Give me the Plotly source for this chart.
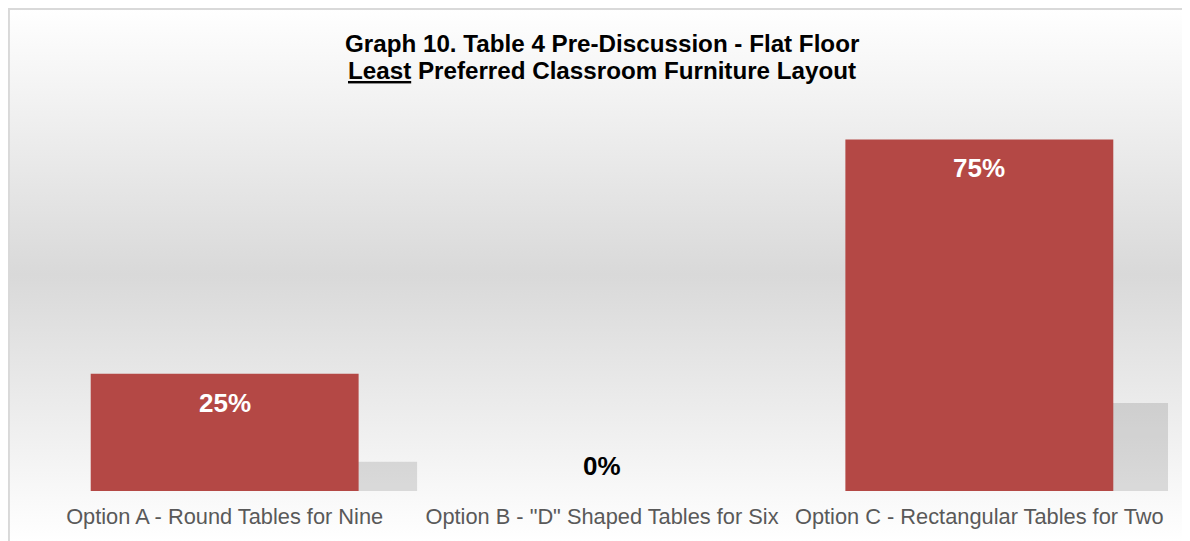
import plotly.graph_objects as go

categories = ["Option A - Round Tables for Nine",
              "Option B - \"D\" Shaped Tables for Six",
              "Option C - Rectangular Tables for Two"]
values = [0.25, 0.0, 0.75]
labels = ["25%", "0%", "75%"]

title_line1 = "Graph 10. Table 4 Pre-Discussion - Flat Floor"
title_line2 = "<u>Least</u> Preferred Classroom Furniture Layout"

FONT = "Liberation Sans, Arial, sans-serif"

grad_svg = (
    "data:image/svg+xml;utf8,"
    "<svg xmlns='http://www.w3.org/2000/svg' width='100' height='100' preserveAspectRatio='none'>"
    "<defs><linearGradient id='g' x1='0' y1='0' x2='0' y2='1'>"
    "<stop offset='0' stop-color='%23ffffff'/>"
    "<stop offset='0.5' stop-color='%23d9d9d9'/>"
    "<stop offset='1' stop-color='%23ffffff'/>"
    "</linearGradient></defs>"
    "<rect width='100' height='100' fill='url(%23g)'/></svg>"
)

fig = go.Figure()
# soft shadow behind bars
fig.add_trace(go.Bar(
    x=categories, y=[v * 0.25 for v in values],
    marker=dict(color="rgba(0,0,0,0.12)", line=dict(width=0)),
    width=0.32, offset=0.19,
    hoverinfo="skip",
))
fig.add_trace(go.Bar(
    x=categories, y=values,
    marker=dict(color="#b44845", line=dict(width=0)),
    width=0.71, offset=-0.355,
    hoverinfo="skip",
))

annotations = []
for c, v, lab in zip(categories, values, labels):
    if v > 0:
        annotations.append(dict(x=c, y=v, xref="x", yref="y", text=f"<b>{lab}</b>",
                                showarrow=False, yshift=-29, yanchor="middle",
                                font=dict(family=FONT, size=26, color="white")))
    else:
        annotations.append(dict(x=c, y=v, xref="x", yref="y", text=f"<b>{lab}</b>",
                                showarrow=False, yshift=25, yanchor="middle",
                                font=dict(family=FONT, size=26, color="black")))

annotations.append(dict(x=0.5, y=1.193, xref="paper", yref="paper", yanchor="middle",
                        text=f"<b>{title_line1}</b>", showarrow=False,
                        font=dict(family=FONT, size=24.2, color="black")))
annotations.append(dict(x=0.5, y=1.121, xref="paper", yref="paper", yanchor="middle",
                        text=f"<b>{title_line2}</b>", showarrow=False,
                        font=dict(family=FONT, size=24.2, color="black")))

fig.update_layout(
    width=1182, height=533,
    margin=dict(l=28, r=22, t=107.5, b=50),
    paper_bgcolor="white",
    plot_bgcolor="rgba(0,0,0,0)",
    showlegend=False,
    barmode="overlay",
    annotations=annotations,
    images=[dict(source=grad_svg, xref="paper", yref="paper",
                 x=-0.0248, y=1.2863, sizex=1.045, sizey=1.42,
                 xanchor="left", yanchor="top", sizing="stretch", layer="below")],
    shapes=[dict(type="rect", xref="paper", yref="paper",
                 x0=-0.0239, x1=1.05, y0=-0.2, y1=1.2855,
                 line=dict(color="#d9d9d9", width=2), fillcolor="rgba(0,0,0,0)")],
    xaxis=dict(showline=False, showgrid=False, ticks="", zeroline=False,
               range=[-0.5, 2.5], ticklabelstandoff=10,
               tickfont=dict(family=FONT, size=21.8, color="#595959")),
    yaxis=dict(range=[0, 0.8], visible=False, showgrid=False, zeroline=False),
)

fig.write_html("out.html")
